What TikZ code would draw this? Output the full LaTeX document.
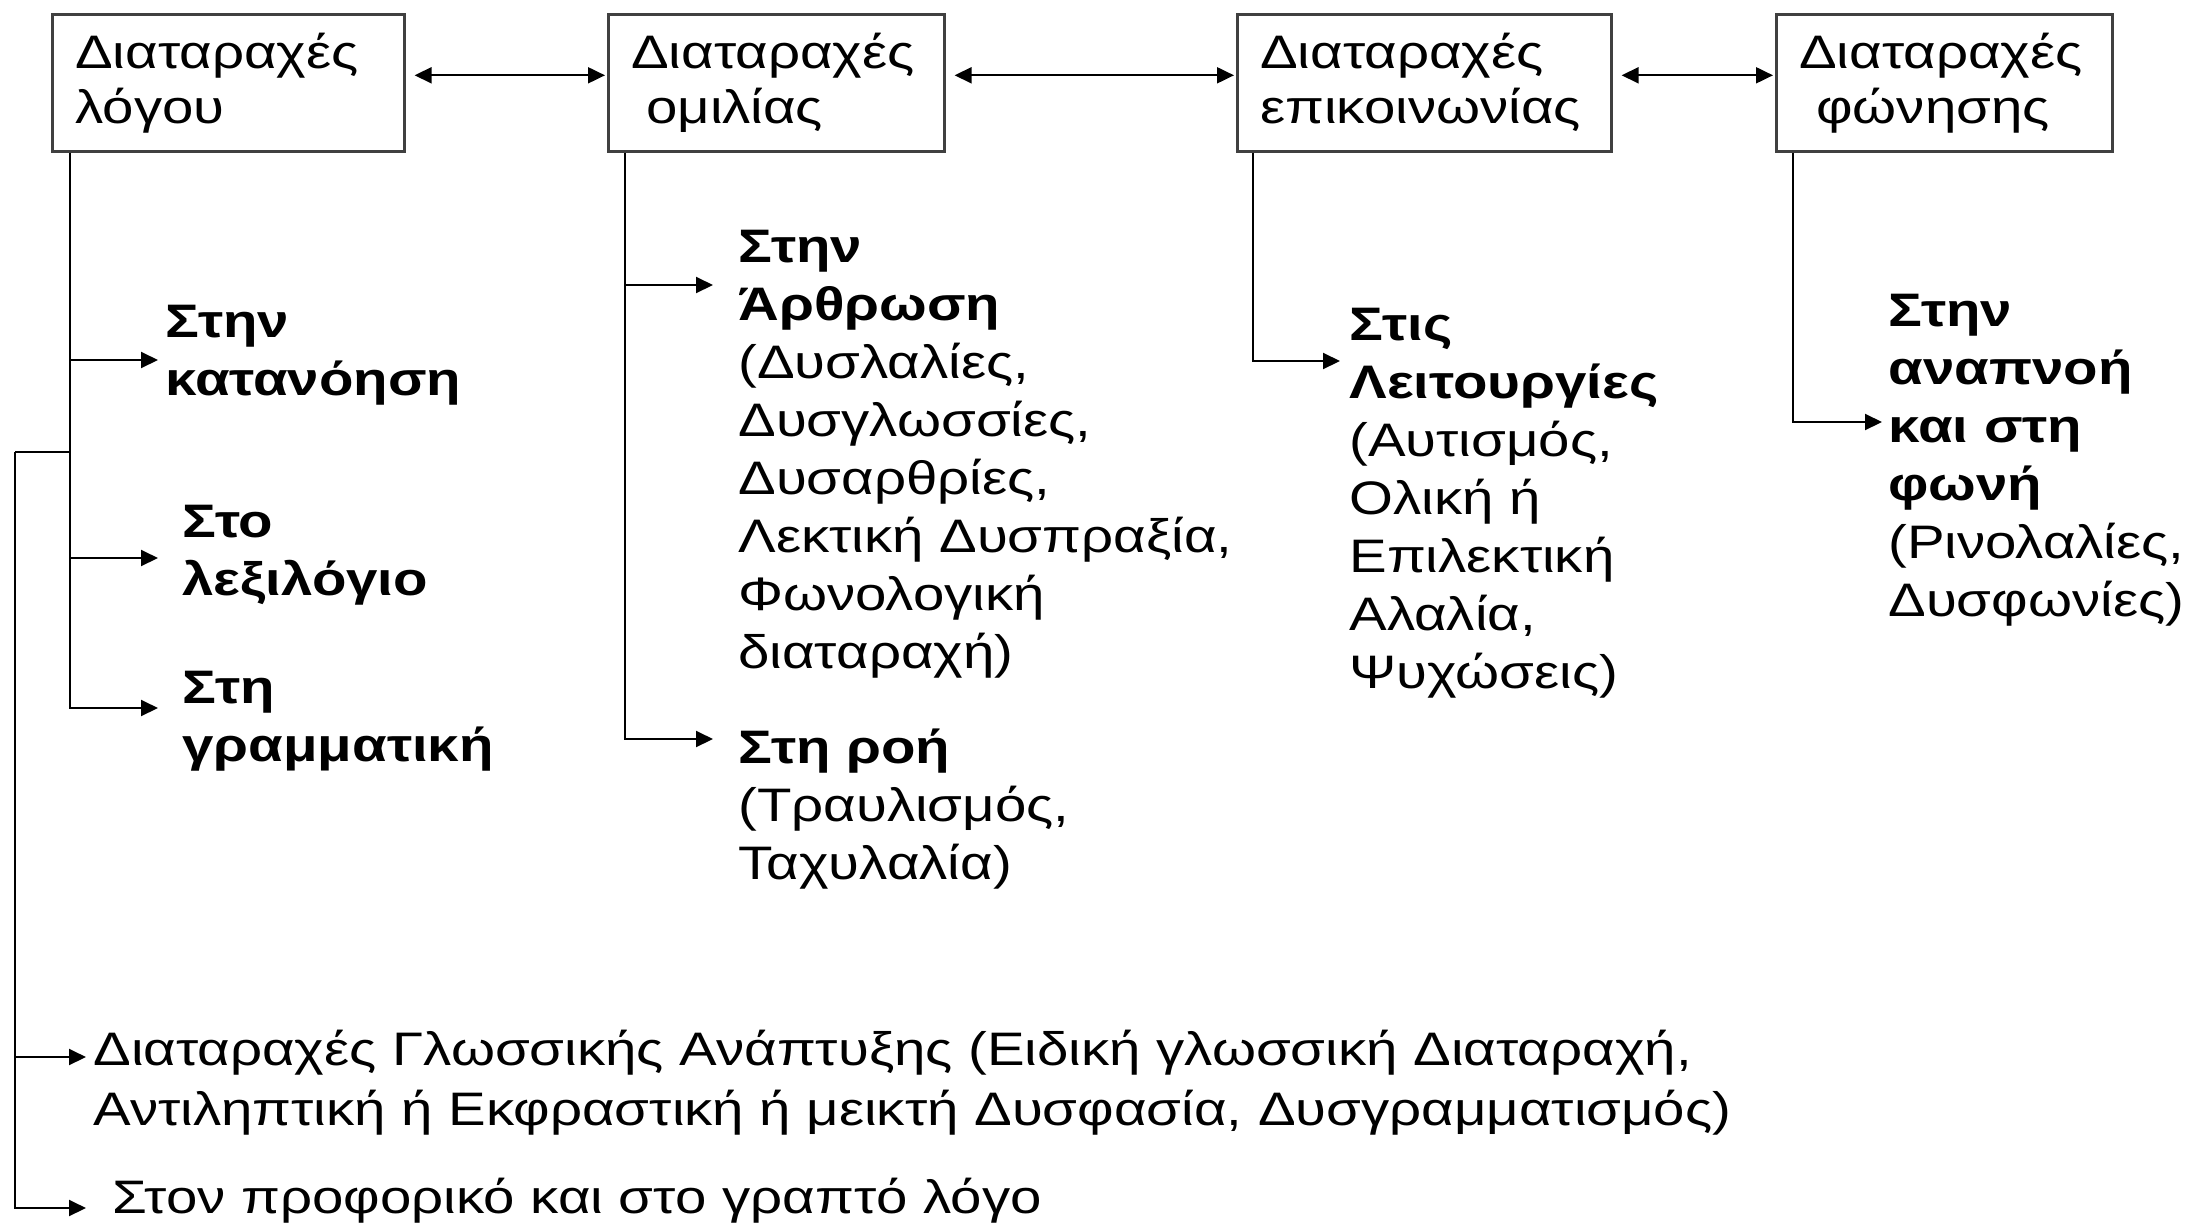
\documentclass[tikz,border=0pt]{standalone}
\usepackage{fontspec}
\setmainfont{Liberation Sans}[FakeStretch=1.2]
\usetikzlibrary{arrows.meta}

\tikzset{
  dbox/.style={draw=black!75, line width=1.3pt, anchor=north west, inner xsep=11.5pt, inner ysep=0pt,
    minimum height=68.5pt, align=left, text width=#1, font=\fontsize{23.5pt}{27.5pt}\selectfont},
  lbl/.style={anchor=base west, inner sep=0pt, align=left, text width=#1, font=\fontsize{23.5pt}{29pt}\selectfont},
  lbl/.default=300pt,
  line/.style={line width=1pt},
  arr/.style={line width=1pt, -{Triangle[length=8.5pt,width=8pt]}},
  both/.style={line width=1pt, {Triangle[length=8.5pt,width=8pt]}-{Triangle[length=8.5pt,width=8pt]},
    shorten <=4.5pt, shorten >=1pt}
}

\begin{document}
\begin{tikzpicture}[x=0.5pt,y=-0.5pt]
\useasboundingbox (0,0) rectangle (2190,1227);

% boxes
\node[dbox=153pt] (b1) at (51,13) {Διαταραχές\\λόγου};
\node[dbox=145pt] (b2) at (607,13) {Διαταραχές\\\hspace*{7.5pt}ομιλίας};
\node[dbox=164pt] (b3) at (1236,13) {Διαταραχές\\επικοινωνίας};
\node[dbox=145pt] (b4) at (1775,13) {Διαταραχές\\\hspace*{8.5pt}φώνησης};

\draw[both] ([yshift=3.75pt]b1.east) -- ([yshift=3.75pt]b2.west);
\draw[both] ([yshift=3.75pt]b2.east) -- ([yshift=3.75pt]b3.west);
\draw[both] ([yshift=3.75pt]b3.east) -- ([yshift=3.75pt]b4.west);

% texts
\node[lbl] (kat) at (165,337) {\textbf{Στην\\κατανόηση}};
\node[lbl] (lex) at (182,537) {\textbf{Στο\\λεξιλόγιο}};
\node[lbl] (gra) at (182,703) {\textbf{Στη\\γραμματική}};
\node[lbl] (art) at (738,262) {\textbf{Στην\\Άρθρωση}\\(Δυσλαλίες,\\Δυσγλωσσίες,\\Δυσαρθρίες,\\Λεκτική Δυσπραξία,\\Φωνολογική\\διαταραχή)};
\node[lbl] (roi) at (738,763) {\textbf{Στη ροή}\\(Τραυλισμός,\\Ταχυλαλία)};
\node[lbl] (lei) at (1349,340) {\textbf{Στις\\Λειτουργίες}\\(Αυτισμός,\\Ολική ή\\Επιλεκτική\\Αλαλία,\\Ψυχώσεις)};
\node[lbl] (ana) at (1888,326) {\textbf{Στην\\αναπνοή\\και στη\\φωνή}\\(Ρινολαλίες,\\Δυσφωνίες)};
\node[lbl=1000pt, font=\fontsize{23.5pt}{30pt}\selectfont] (glo) at (93,1065) {Διαταραχές Γλωσσικής Ανάπτυξης (Ειδική γλωσσική Διαταραχή,\\Αντιληπτική ή Εκφραστική ή μεικτή Δυσφασία, Δυσγραμματισμός)};
\node[lbl=1000pt] (sto) at (112,1213) {Στον προφορικό και στο γραπτό λόγο};

% arrow ends
\coordinate (kat-in) at (158,360);
\coordinate (lex-in) at (158,558);
\coordinate (gra-in) at (158,708);
\coordinate (art-in) at (713,285);
\coordinate (roi-in) at (713,739);
\coordinate (lei-in) at (1340,361);
\coordinate (ana-in) at (1882,422);
\coordinate (glo-in) at (86,1057);
\coordinate (sto-in) at (86,1208);
\coordinate (lb) at (15,452);

\coordinate (s1) at ([xshift=9.5pt]b1.south west);
\coordinate (s2) at ([xshift=9pt]b2.south west);
\coordinate (s3) at ([xshift=8.5pt]b3.south west);
\coordinate (s4) at ([xshift=9pt]b4.south west);

\draw[arr] (s1) |- (gra-in);
\foreach \t in {kat,lex}
  \draw[arr] (s1 |- \t-in) -- (\t-in);
\draw[line] (s1 |- lb) -- (lb);
\draw[arr] (lb) |- (sto-in);
\draw[arr] (lb |- glo-in) -- (glo-in);

\draw[arr] (s2) |- (roi-in);
\draw[arr] (s2 |- art-in) -- (art-in);
\draw[arr] (s3) |- (lei-in);
\draw[arr] (s4) |- (ana-in);
\end{tikzpicture}
\end{document}
